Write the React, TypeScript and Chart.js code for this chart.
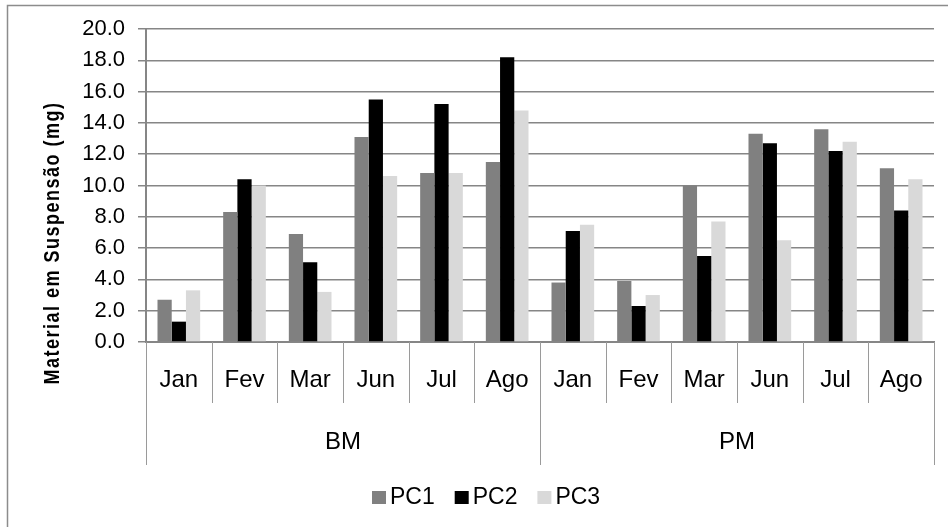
import React, { useEffect, useRef } from "react";
import { Chart, registerables } from "chart.js";

Chart.register(...registerables);

// Sampling months, repeated for each site
const months = ["Jan", "Fev", "Mar", "Jun", "Jul", "Ago"];
// Sites
const groups = ["BM", "PM"];
// Series names
const seriesNames = ["PC1", "PC2", "PC3"];
const seriesColors = ["#808080", "#000000", "#d9d9d9"];

// Material em suspensão, BM (Jan..Ago) then PM (Jan..Ago)
const pc1 = [2.7, 8.3, 6.9, 13.1, 10.8, 11.5, 3.8, 3.9, 10.0, 13.3, 13.6, 11.1];
const pc2 = [1.3, 10.4, 5.1, 15.5, 15.2, 18.2, 7.1, 2.3, 5.5, 12.7, 12.2, 8.4];
const pc3 = [3.3, 10.0, 3.2, 10.6, 10.8, 14.8, 7.5, 3.0, 7.7, 6.5, 12.8, 10.4];

const yMin = 0;
const yMax = 20;
const yStep = 2;
const yTitle = "Material em Suspensão (mg)";

const FONT = "'Liberation Sans', Arial, sans-serif";
const LINE = "#868686";

const decorations = {
  id: "decorations",
  beforeDraw(chart: any) {
    const ctx = chart.ctx;
    ctx.save();
    ctx.fillStyle = "#ffffff";
    ctx.fillRect(0, 0, chart.width, chart.height);
    ctx.strokeStyle = "#8c8c8c";
    ctx.lineWidth = 1.5;
    ctx.strokeRect(7.5, 5.5, chart.width + 20, chart.height + 20);
    ctx.restore();
  },
  afterDraw(chart: any) {
    const ctx = chart.ctx;
    const xs = chart.scales.x;
    const base = xs.top;
    const n = chart.data.labels.length;
    const p0 = xs.getPixelForValue(0);
    const step = xs.getPixelForValue(1) - p0;

    ctx.save();
    // category dividers below the axis
    ctx.strokeStyle = "#9a9a9a";
    ctx.lineWidth = 1;
    for (let i = 0; i <= n; i++) {
      const px = Math.round(p0 + (i - 0.5) * step) + 0.5;
      const isGroup = i % months.length === 0;
      ctx.beginPath();
      ctx.moveTo(px, base);
      ctx.lineTo(px, base + (isGroup ? 123 : 61));
      ctx.stroke();
    }

    // group labels
    ctx.fillStyle = "#000";
    ctx.font = `24px ${FONT}`;
    ctx.textAlign = "center";
    ctx.textBaseline = "middle";
    groups.forEach((g, gi) => {
      const a = xs.getPixelForValue(gi * months.length);
      const b = xs.getPixelForValue(gi * months.length + months.length - 1);
      ctx.fillText(g, (a + b) / 2, base + 100);
    });

    // legend
    ctx.font = `23px ${FONT}`;
    ctx.textAlign = "left";
    let lx = 372;
    const ly = 498;
    chart.data.datasets.forEach((ds: any) => {
      ctx.fillStyle = ds.backgroundColor;
      ctx.fillRect(lx, ly - 7, 14, 13);
      ctx.fillStyle = "#000";
      ctx.fillText(ds.label, lx + 18, ly);
      lx += 82.7;
    });

    // y-axis title
    ctx.translate(53, 243);
    ctx.rotate(-Math.PI / 2);
    ctx.scale(1, 1.2);
    ctx.font = `bold 18px ${FONT}`;
    (ctx as any).letterSpacing = "1.5px";
    ctx.textAlign = "center";
    ctx.fillStyle = "#000";
    ctx.fillText(yTitle, 0, 0);
    ctx.restore();
  },
};

export default function App() {
  const ref = useRef<HTMLCanvasElement | null>(null);

  useEffect(() => {
    if (!ref.current) return;
    const datasets = [pc1, pc2, pc3].map((d, i) => ({
      label: seriesNames[i],
      data: d,
      backgroundColor: seriesColors[i],
      borderWidth: 0,
      barPercentage: 1,
      categoryPercentage: 0.65,
    }));
    const chart = new Chart(ref.current, {
      type: "bar",
      data: { labels: [...months, ...months], datasets },
      options: {
        animation: false,
        responsive: false,
        maintainAspectRatio: false,
        devicePixelRatio: 1,
        layout: { padding: { left: 0, top: 29, right: 14, bottom: 0 } },
        plugins: { legend: { display: false }, tooltip: { enabled: false } },
        scales: {
          x: {
            grid: { display: false },
            border: { display: true, color: LINE, width: 2 },
            ticks: {
              font: { size: 24, family: FONT },
              color: "#000",
              padding: 16,
              maxRotation: 0,
              autoSkip: false,
            },
            afterFit: (s: any) => {
              s.height = 185;
            },
          },
          y: {
            min: yMin,
            max: yMax,
            ticks: {
              stepSize: yStep,
              callback: (v: any) => Number(v).toFixed(1),
              font: { size: 22, family: FONT },
              color: "#000",
              padding: 13,
            },
            grid: { color: LINE, lineWidth: 1.5, tickLength: 8 },
            border: { color: LINE, width: 2 },
            afterFit: (s: any) => {
              s.width = 146;
            },
          },
        },
      },
      plugins: [decorations],
    });
    return () => chart.destroy();
  }, []);

  return (
    <div style={{ position: "absolute", left: 0, top: 0, width: 948, height: 527, background: "#fff" }}>
      <canvas ref={ref} width={948} height={527} />
    </div>
  );
}
